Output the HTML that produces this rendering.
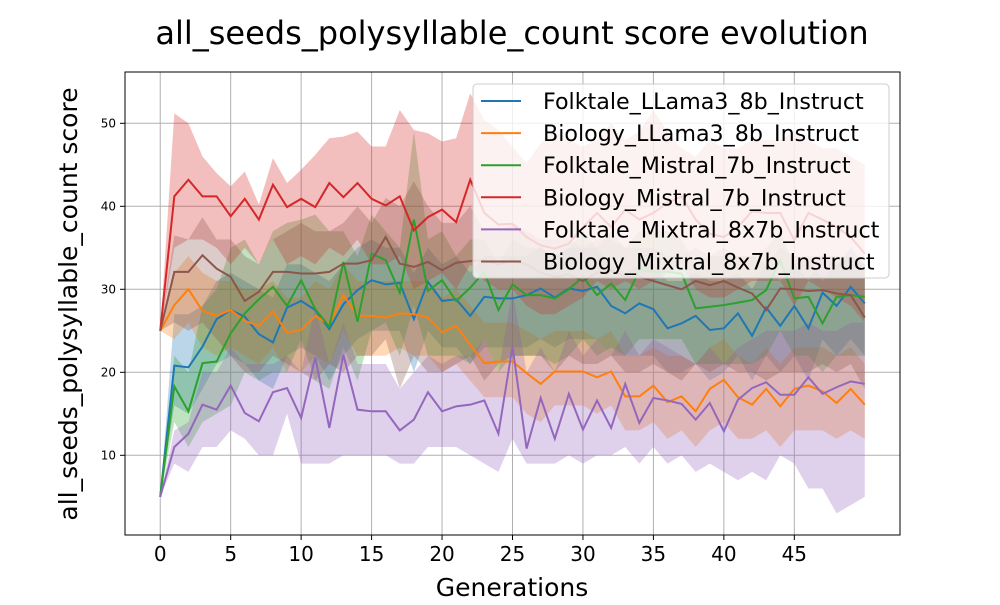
<!DOCTYPE html>
<html><head><meta charset="utf-8"><style>
body{margin:0;background:#fff;font-family:"Liberation Sans","DejaVu Sans",sans-serif}
</style></head><body>
<svg id="chart" width="1000" height="600" xmlns="http://www.w3.org/2000/svg" font-family="DejaVu Sans, Liberation Sans, sans-serif">
<rect width="1000" height="600" fill="#fff"/>
<text x="512" y="44" font-size="32" text-anchor="middle">all_seeds_polysyllable_count score evolution</text>
<g id="grid"></g>
<g id="series"></g>
<rect x="125" y="72" width="775" height="463" fill="none" stroke="#000" stroke-width="1"/>
<g id="ticks"></g>
<text x="512" y="596" font-size="25" text-anchor="middle">Generations</text>
<text transform="translate(77,304) rotate(-90)" font-size="25" text-anchor="middle">all_seeds_polysyllable_count score</text>
<g id="legend"></g>
</svg>
<script>
const seriesNames=["Folktale_LLama3_8b_Instruct","Biology_LLama3_8b_Instruct","Folktale_Mistral_7b_Instruct","Biology_Mistral_7b_Instruct","Folktale_Mixtral_8x7b_Instruct","Biology_Mixtral_8x7b_Instruct"];
const xTicks=[0,5,10,15,20,25,30,35,40,45];
const yTicks=[10,20,30,40,50];
const blueMean=[5,20.8,20.6,23.1,26.4,27.5,26.7,24.6,23.6,27.8,28.6,27.5,25.2,28.2,29.9,31.1,30.6,30.8,26.4,30.9,28.6,28.8,26.8,29.1,28.9,28.9,29.3,30.1,29,30.1,29.8,30.3,28,27.1,28.3,27.6,25.3,25.9,26.8,25.1,25.3,27.1,24.4,27.8,25.6,28,25.3,29.6,28,30.3,28.3];
const blueUpper=[5,27,27,28,31,32,31,30,29,33,33,32,31,33,35,36,35,35,32,35,33,34,32,34,34,34,34,35,34,35,35,35,33,32,33,33,31,31,32,31,31,32,30,33,31,33,31,34,33,35,33];
const blueLower=[5,16,15,18,21,22,21,19,18,22,23,22,19,22,24,25,25,25,20,25,23,23,21,23,23,23,23,24,23,24,24,24,22,22,22,22,20,20,21,19,20,22,19,22,20,22,19,24,22,24,22];
const orangeMean=[25,28.1,30,27.4,26.8,27.5,26.2,25.6,27.3,24.8,25.1,26.8,25.8,29.3,26.8,26.8,26.6,27.1,27,26.6,24.8,25.6,23.3,21.1,21.3,21.3,19.9,18.6,20.1,20.1,20.1,19.4,20.1,17.1,17.1,18.4,16.4,17.1,15.3,18,19.1,17,16.1,18,15.9,18,18.4,17.7,16.3,18,16.1];
const orangeUpper=[25,32,34,32,31,31,30,30,31,29,29,31,30,33,31,31,31,31,31,31,29,30,28,26,26,26,25,24,25,25,25,24,25,22,22,23,22,22,21,23,24,22,21,23,21,23,23,23,22,23,21];
const orangeLower=[25,24,26,23,22,23,22,21,23,20,20,22,21,25,22,22,22,23,22,22,20,21,19,17,17,17,15,14,16,16,16,15,16,13,13,14,12,13,11,13,14,12,12,13,11,13,13,13,12,13,12];
const greenMean=[5,18.3,15.3,21.1,21.3,24.7,27.1,28.8,30.3,28,31.1,27.6,25.5,33.3,26.1,34.3,33.5,29.6,38.4,29.8,31.1,28.6,30.2,32.1,27.5,30.6,29.3,29.3,28.9,30,31.5,29.3,30.7,28.7,32.3,32.1,32.1,31.9,27.7,27.9,28.1,28.4,28.7,29.9,33.5,28.9,29.1,25.9,29.1,29.3,29.1];
const greenUpper=[5,22,20,28,30,35,36,33,37,38,38.4,39,37,37,34,39,37,35,49,36,37,34,36,36,33,36,35,35,34,35,37,35,37,35,37,37,37,36,33,34,34,34,34,35,37,33,34,31,33,34,33];
const greenLower=[5,14,11,14,15,16,20,19,20,20,24,19,18,23,19,25,26,22,28,22,22,22,21,24,20,22,22,22,21,22,24,22,23,22,24,24,24,24,21,21,21,21,21,22,25,22,22,20,22,22,22];
const redMean=[25,41.2,43.2,41.2,41.2,38.8,40.9,38.4,42.6,39.9,40.9,39.9,42.8,41.1,42.8,40.9,40.1,41.2,37.1,38.7,39.6,38.1,43.2,39.2,37.8,37.9,36.3,35.3,34.9,35.5,37.5,39.2,37.5,39.6,38.4,39.2,40.4,41.2,38.4,36.7,36.3,37.5,39.4,39.2,39.2,35.9,39.2,38.4,37.5,36.3,34.3];
const redUpper=[25,51.2,50,46,44,42.4,44.2,40.2,45.8,42.8,44.4,46.2,48.2,48.4,49,47.2,47.2,51.6,49.2,48.8,47.8,48.2,53.6,50.4,49.2,47.2,45.2,47.6,49.2,48,47.2,48,50,48,49,51.6,49,47,46,48,47,47,48,48,48,49,48,47,47,46,45];
const redLower=[25,35,36,36,35,33,35,33,36,33,34,33,35,34,36,33,33,34,30,31,32,30,33,31,30,30,28,27,27,28,29,31,30,31,30,31,32,33,30,29,29,30,31,31,31,28,31,30,29,28,26];
const purpleMean=[5,11,12.6,16.1,15.5,18.4,15.1,14.1,17.6,18.1,14.5,21.8,13.3,22.1,15.5,15.3,15.3,13,14.3,17.6,15.3,15.9,16.1,16.6,12.6,23.1,10.8,16.9,12,17.4,13.1,16.6,13.3,18.6,13.9,16.9,16.6,16.2,14.3,16.3,12.9,16.7,18.1,18.8,17.3,17.3,19.4,17.4,18.2,18.9,18.6];
const purpleUpper=[5,13,14,20,20,23,21,21,21,22,20,28,21,26,21,21,21,18,20,22,21,22,22,24,20,30,20,23,20,25,22,24,22,25,22,24,23,22,21,23,21,23,24,25,25,25,26,25,25,26,26];
const purpleLower=[5,9,8,11,11,13,12,10,10,15,9,9,9,10,10,10,10,9,9,11,11,11,10,9,8,12,9,9,9,10,9,10,10,11,9,11,9,10,8,9,8,7,8,7,10,9,6,6,3,4,5];
const brownMean=[25,32.1,32.1,34.1,32.5,31.5,28.6,29.7,32.1,32.1,31.9,31.9,32.1,33.1,33.1,33.5,36.3,33.1,32.7,33.3,32.3,33.2,33.4,33.5,33,33.5,33,32,31.5,31.8,31,32,32.3,31.5,31.5,31,30.5,30,31,30.5,31,30.2,29.5,27.5,30.1,30,29.8,29.9,29.5,29.3,26.6];
const brownUpper=[25,36.5,36,38.7,36,36,34,33,36,37,38,37,37,38,40,38,41,40,43,40,38,38,40,37,37,38,37,36,36,36,35,36,36,35,35,35,34,34,35,34,35,34,34,33,35,34,34,34,34,34,33];
const brownLower=[25,26,25,26,24,22,20,20,22,21,20,19,21,20,22,22,24,18,22,20,20,21,22,19,21,22,22,22,20,22,21,21,22,20,20,21,20,19,21,20,21,20,20,19,20,20,20,21,20,21,18];

const colors=["#1f77b4","#ff7f0e","#2ca02c","#d62728","#9467bd","#8c564b"];
const means=[blueMean,orangeMean,greenMean,redMean,purpleMean,brownMean];
const uppers=[blueUpper,orangeUpper,greenUpper,redUpper,purpleUpper,brownUpper];
const lowers=[blueLower,orangeLower,greenLower,redLower,purpleLower,brownLower];
const NS="http://www.w3.org/2000/svg";
const X=v=>125+(v+2.5)*775/55;
const Y=v=>123.3+(50-v)*8.3;
function mk(t,a,p){const e=document.createElementNS(NS,t);for(const k in a)e.setAttribute(k,a[k]);p.appendChild(e);return e;}
const grid=document.getElementById('grid'),ticks=document.getElementById('ticks');
xTicks.forEach(t=>{
  const l=mk('line',{x1:X(t),x2:X(t),y1:72,y2:535,stroke:'#b0b0b0','stroke-width':1},grid);
  
  
  const tk=mk('line',{x1:X(t),x2:X(t),y1:535,y2:540,stroke:'#000'},ticks);
  
  
  const tx=mk('text',{x:X(t),y:561,'font-size':20,'text-anchor':'middle'},ticks);tx.textContent=t;
  
  
});
yTicks.forEach(t=>{
  const l=mk('line',{x1:125,x2:900,y1:Y(t),y2:Y(t),stroke:'#b0b0b0','stroke-width':1},grid);
  
  
  const tk=mk('line',{x1:120,x2:125,y1:Y(t),y2:Y(t),stroke:'#000'},ticks);
  
  
  const tx=mk('text',{x:116,y:Y(t)+4,'font-size':12,'text-anchor':'end'},ticks);tx.textContent=t;
  
  
});
const sg=document.getElementById('series');
means.forEach((m,i)=>{
  const up=uppers[i].map((v,j)=>X(j)+','+Y(v));
  const lo=lowers[i].map((v,j)=>X(j)+','+Y(v)).reverse();
  const band=mk('polygon',{points:up.concat(lo).join(' '),fill:colors[i],'fill-opacity':0.3},sg);
  
  
});
means.forEach((m,i)=>{
  const line=mk('polyline',{points:m.map((v,j)=>X(j)+','+Y(v)).join(' '),fill:'none',stroke:colors[i],'stroke-width':2},sg);
  
  
});
const lg=document.getElementById('legend');
const box=mk('rect',{x:473,y:84,width:416,height:194,rx:4,fill:'#fff','fill-opacity':0.8,stroke:'#ccc'},lg);


seriesNames.forEach((n,i)=>{
  const y=101+i*32.1;
  const l=mk('line',{x1:481,x2:521,y1:y,y2:y,stroke:colors[i],'stroke-width':2},lg);
  
  
  const t=mk('text',{x:543,y:y+8,'font-size':22.2},lg);t.textContent=n;
  
  
});
</script>
</body></html>
